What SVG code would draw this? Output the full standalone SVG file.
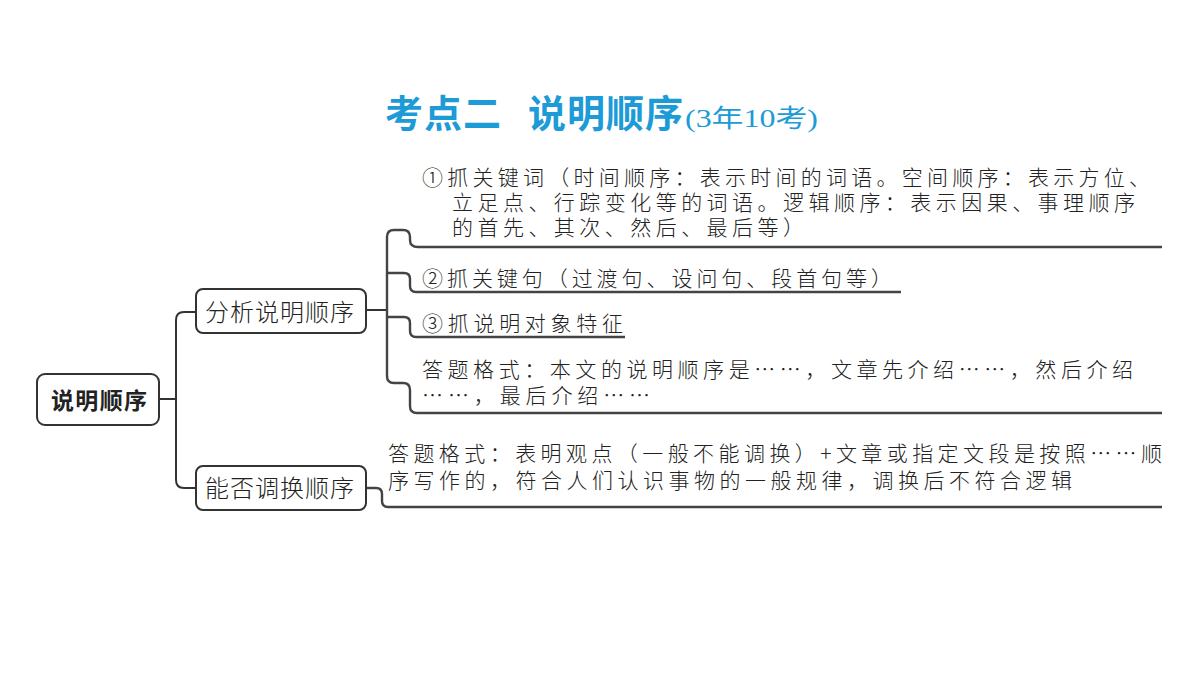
<svg xmlns="http://www.w3.org/2000/svg" width="1200" height="675" viewBox="0 0 1200 675">
<style>
.title{font-family:"Noto Sans CJK SC",sans-serif;font-weight:700;fill:#1d9bd7;font-size:38px;letter-spacing:1px}
.sub{font-family:"Liberation Serif","Noto Sans CJK SC",serif;fill:#1d9bd7;font-size:25px}
.box{fill:#fff;stroke:#333;stroke-width:2}
.root{font-family:"Noto Sans CJK SC",sans-serif;font-weight:700;font-size:23px;fill:#222}
.node{font-family:"Noto Sans CJK SC",sans-serif;font-weight:300;font-size:24px;fill:#222;letter-spacing:1px}
.t{font-family:"Noto Sans CJK SC",sans-serif;font-weight:300;font-size:21px;fill:#222}
.ln{fill:none;stroke:#333;stroke-width:2}
.ul{fill:none;stroke:#444;stroke-width:2.4}
</style>
<rect width="1200" height="675" fill="#fff"/>
<g id="title">
<text class="title" x="385" y="127">考点二</text>
<text class="title" x="528" y="127">说明顺序</text>
<text class="sub" x="685" y="127" textLength="133" lengthAdjust="spacingAndGlyphs">(3年10考)</text>
</g>
<g id="connectors">
<path class="ln" d="M159,399 H176"/>
<path class="ln" d="M196,312 H184 Q176,312 176,320 V480 Q176,488 184,488 H196"/>
<path class="ln" d="M366,310 H387"/>
<path class="ul" d="M1162,247 H418 Q410,247 410,240 V237 Q410,230 403,230 H394 Q387,230 387,237 V376 Q387,383 394,383 H403 Q410,383 410,390 V406 Q410,413 417,413 H1162"/>
<path class="ul" d="M387,273 H404 Q410,273 410,279 V286 Q410,292 416,292 H901"/>
<path class="ul" d="M387,317 H404 Q410,317 410,323 V331 Q410,337 416,337 H625"/>
<path class="ul" d="M366,488 H376 Q382,488 382,494 V501 Q382,507 388,507 H1162"/>
</g>
<g id="root">
<rect class="box" x="37" y="374" width="122" height="51" rx="8"/>
<text class="root" x="99" y="409" text-anchor="middle" textLength="96">说明顺序</text>
</g>
<g id="node-analyze">
<rect class="box" x="196" y="289" width="170" height="44" rx="7"/>
<text class="node" x="205" y="321" textLength="150">分析说明顺序</text>
</g>
<g id="node-swap">
<rect class="box" x="196" y="466" width="170" height="44" rx="7"/>
<text class="node" x="205" y="497" textLength="150">能否调换顺序</text>
</g>
<g id="leaf-1">
<text class="t" x="422" y="185" textLength="728">①抓关键词（时间顺序：表示时间的词语。空间顺序：表示方位、</text>
<text class="t" x="452" y="210" textLength="683">立足点、行踪变化等的词语。逻辑顺序：表示因果、事理顺序</text>
<text class="t" x="452" y="235" textLength="352">的首先、其次、然后、最后等）</text>
</g>
<g id="leaf-2">
<text class="t" x="422" y="286" textLength="470">②抓关键句（过渡句、设问句、段首句等）</text>
</g>
<g id="leaf-3">
<text class="t" x="422" y="331" textLength="201">③抓说明对象特征</text>
</g>
<g id="leaf-4">
<text class="t" x="422" y="377" textLength="711">答题格式：本文的说明顺序是……，文章先介绍……，然后介绍</text>
<text class="t" x="422" y="403" textLength="228">……，最后介绍……</text>
</g>
<g id="leaf-5">
<text class="t" x="388" y="461" textLength="774">答题格式：表明观点（一般不能调换）+文章或指定文段是按照……顺</text>
<text class="t" x="388" y="488" textLength="684">序写作的，符合人们认识事物的一般规律，调换后不符合逻辑</text>
</g>
</svg>
